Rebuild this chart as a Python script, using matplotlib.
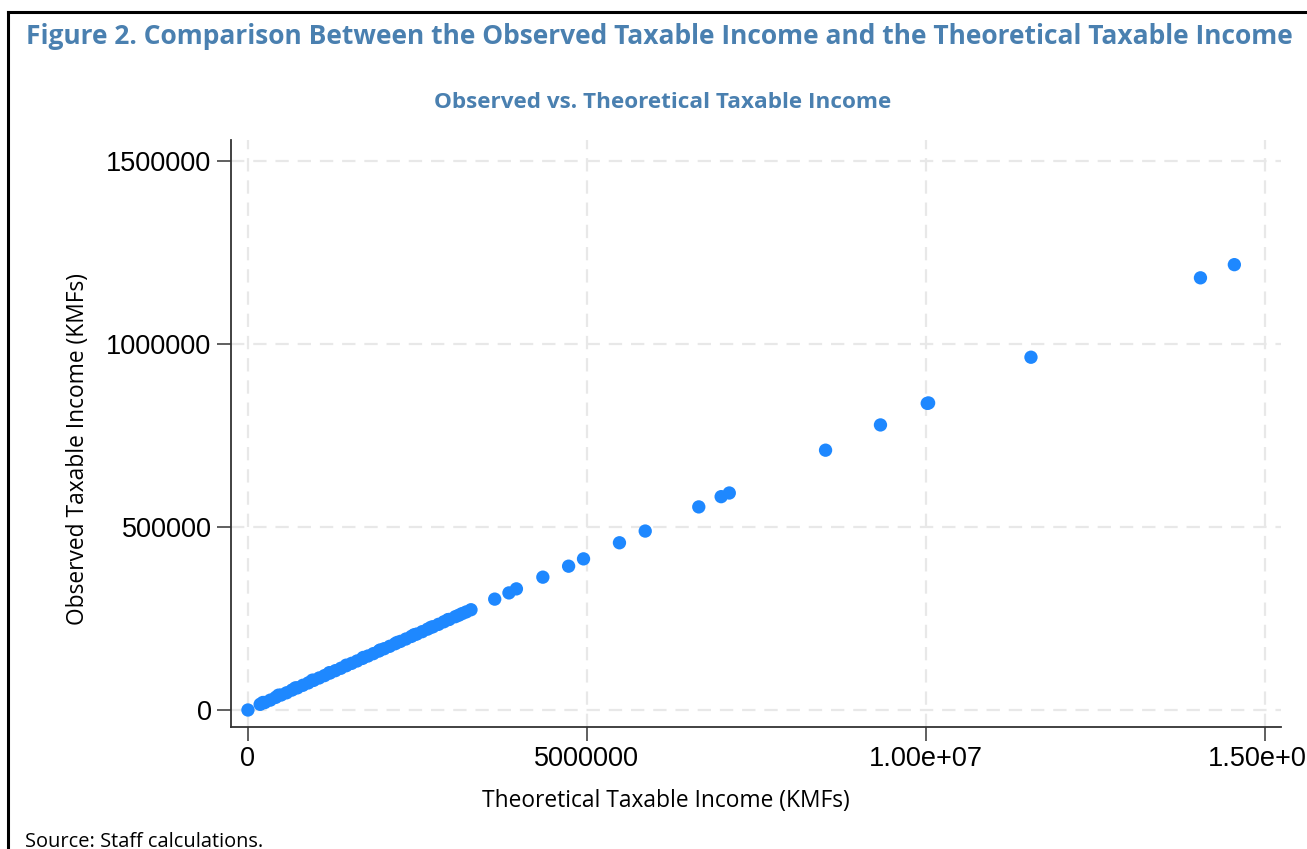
import matplotlib
matplotlib.use('Agg')
import matplotlib.pyplot as plt
from matplotlib.lines import Line2D

# theoretical vs observed taxable income, KMFs
band_theo = [180000, 250000, 330000, 410000, 490000, 570000, 650000, 730000,
             810000, 890000, 970000, 1050000, 1130000, 1210000, 1290000,
             1370000, 1450000, 1530000, 1610000, 1690000, 1770000, 1850000,
             1930000, 2010000, 2090000, 2170000, 2250000, 2330000, 2410000,
             2490000, 2570000, 2650000, 2730000, 2810000, 2890000, 2970000,
             3060000, 3110000, 3160000, 3220000, 3290000]
band_obs = [15500, 20500, 27000, 34500, 41000, 47000, 54500, 60500,
            67500, 74000, 81000, 87500, 94000, 101000, 107500,
            114000, 121000, 127500, 134000, 141000, 147500, 154000,
            161000, 167500, 174000, 181000, 187500, 194000, 201000,
            207500, 214000, 221000, 227500, 234000, 241000, 247500,
            255000, 259000, 263500, 268000, 274000]

# a second, slightly offset run inside the dense band
band2_theo = [220000, 450000, 700000, 950000, 1200000, 1450000, 1700000,
              1950000, 2200000, 2450000, 2700000, 2950000]
band2_obs = [20500, 40500, 60500, 81500, 102000, 122500, 143500,
             164000, 184500, 205500, 226000, 247000]

upper_theo = [0, 3640000, 3850000, 3960000, 4350000, 4730000, 4950000,
              5480000, 5860000, 6650000, 6980000, 7100000, 8520000, 9330000,
              10020000, 10040000, 11550000, 14050000, 14550000]
upper_obs = [0, 303000, 320000, 331000, 363000, 393000, 413000,
             457000, 489000, 555000, 583000, 593000, 710000, 779000,
             838000, 839000, 964000, 1181000, 1217000]

theo = band_theo + band2_theo + upper_theo
obs = band_obs + band2_obs + upper_obs

title_col = '#4a80b0'
dot_col = '#1e88ff'
font = 'Open Sans'

fig = plt.figure(figsize=(13.07, 8.49), dpi=100)
ax = fig.add_axes([0.1767, 0.1437, 0.8033, 0.6913])

ax.scatter(theo, obs, s=92, color=dot_col, edgecolors='none', zorder=3)

ax.set_xlim(-250700, 15236000)
ax.set_ylim(-46450, 1557400)
ax.set_xticks([0, 5000000, 10000000, 15000000])
ax.set_xticklabels(['0', '5000000', '1.00e+07', '1.50e+07'])
ax.set_yticks([0, 500000, 1000000, 1500000])
ax.set_yticklabels(['0', '500000', '1000000', '1500000'])

for lab in ax.get_xticklabels() + ax.get_yticklabels():
    lab.set_fontfamily('Liberation Sans')
    lab.set_fontsize(19.5)
ax.tick_params(axis='both', length=10, width=1.2, color='#444444', pad=4)

ax.grid(True, color='#e8e8e8', linestyle=(0, (6, 4)), linewidth=1.6, zorder=0)
ax.set_axisbelow(True)
for side in ['top', 'right']:
    ax.spines[side].set_visible(False)
for side in ['left', 'bottom']:
    ax.spines[side].set_color('#333333')
    ax.spines[side].set_linewidth(1.3)

fig.text(26 / 1307, 1 - 44 / 849,
         'Figure 2. Comparison Between the Observed Taxable Income and the Theoretical Taxable Income',
         fontfamily=font, fontweight='bold', fontsize=19, color=title_col, ha='left', va='baseline')
fig.text(663 / 1307, 1 - 102 / 849, 'Observed vs. Theoretical Taxable Income',
         fontfamily=font, fontweight='bold', fontsize=16.2, color=title_col, ha='center', va='center')

fig.text(666 / 1307, 1 - 801 / 849, 'Theoretical Taxable Income (KMFs)',
         fontfamily=font, fontsize=16.4, ha='center', va='center')
fig.text(78 / 1307, 1 - 449 / 849, 'Observed Taxable Income (KMFs)',
         fontfamily=font, fontsize=16.4, ha='center', va='center', rotation=90)

fig.text(25 / 1307, 1 - 842 / 849, 'Source: Staff calculations.',
         fontfamily=font, fontsize=14.4, ha='left', va='center')

# outer frame, open to the right and bottom
fig.add_artist(Line2D([8 / 1307, 8 / 1307], [-0.1, 1 - 12 / 849], color='black', linewidth=2.2))
fig.add_artist(Line2D([8 / 1307, 1.1], [1 - 12 / 849, 1 - 12 / 849], color='black', linewidth=2.2))

fig.savefig('out.png', dpi=100)
